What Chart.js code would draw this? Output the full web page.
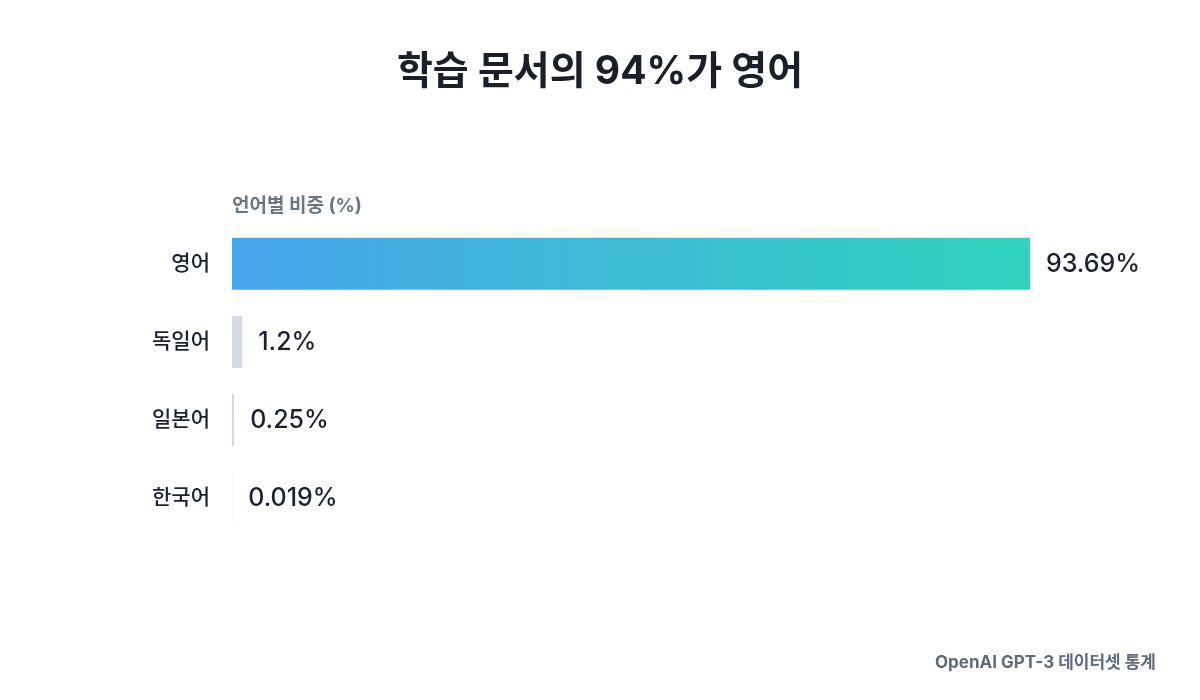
<!DOCTYPE html>
<html><head><meta charset="utf-8">
<script src="https://cdn.jsdelivr.net/npm/chart.js@4"></script>
<style>html,body{margin:0;padding:0;background:#fff}#wrap{width:1200px;height:700px}</style>
</head><body><div id="wrap"><canvas id="c" width="1200" height="700"></canvas></div>
<script>
const categories = ["영어", "독일어", "일본어", "한국어"];
const shares = [93.69, 1.2, 0.25, 0.019];
const valueLabels = ["93.69%", "1.2%", "0.25%", "0.019%"];
const titleText = "학습 문서의 94%가 영어";
const axisTitle = "언어별 비중 (%)";
const footerText = "OpenAI GPT-3 데이터셋 통계";

const FONT = "Inter, 'Noto Sans CJK KR', sans-serif";

const textPlugin = {
  id: 'texts',
  afterDatasetsDraw(chart) {
    const ctx = chart.ctx;
    const meta = chart.getDatasetMeta(0);
    ctx.save();
    ctx.font = "500 25px " + FONT;
    ctx.fillStyle = "#1b2130";
    ctx.textAlign = "left";
    ctx.textBaseline = "middle";
    meta.data.forEach((bar, i) => {
      ctx.fillText(valueLabels[i], bar.x + 16, bar.y + 1);
    });
    ctx.restore();
  },
  afterDraw(chart) {
    const ctx = chart.ctx;
    ctx.save();
    ctx.textBaseline = "middle";
    ctx.font = "bold 39px " + FONT;
    ctx.fillStyle = "#1a1f29";
    ctx.textAlign = "center";
    ctx.fillText(titleText, 600, 72);
    ctx.font = "bold 17px " + FONT;
    ctx.fillStyle = "#5f6b7a";
    ctx.textAlign = "right";
    ctx.fillText(footerText, 1156, 663);
    ctx.restore();
  }
};

new Chart(document.getElementById('c'), {
  type: 'bar',
  data: {
    labels: categories,
    datasets: [{
      data: shares,
      backgroundColor(context) {
        const chart = context.chart;
        const area = chart.chartArea;
        if (context.dataIndex === 0) {
          if (!area) return '#45a6e8';
          const g = chart.ctx.createLinearGradient(area.left, 0, area.right, 0);
          g.addColorStop(0, '#48a5ec');
          g.addColorStop(1, '#30d3bd');
          return g;
        }
        return '#d5dbe3';
      },
      borderWidth: 0,
      categoryPercentage: 1,
      barPercentage: 52 / 78
    }]
  },
  options: {
    indexAxis: 'y',
    responsive: false,
    animation: false,
    layout: { padding: { left: 130, right: 170, top: 195, bottom: 163 } },
    plugins: {
      legend: { display: false },
      tooltip: { enabled: false },
      title: { display: false }
    },
    scales: {
      x: {
        position: 'top',
        min: 0,
        max: Math.max(...shares),
        grid: { display: false, drawTicks: false },
        border: { display: false },
        ticks: { display: false },
        title: {
          display: true,
          text: axisTitle,
          align: 'start',
          color: '#6b7685',
          font: { family: FONT, size: 19, weight: 'bold' },
          padding: { top: 0, bottom: 7 }
        }
      },
      y: {
        grid: { display: false, drawTicks: false },
        border: { display: false },
        ticks: {
          color: '#1b2130',
          padding: 22,
          font: { family: FONT, size: 21, weight: '500' }
        },
        afterFit(scale) { scale.width = 102; }
      }
    }
  },
  plugins: [textPlugin]
});
</script>
</body></html>
